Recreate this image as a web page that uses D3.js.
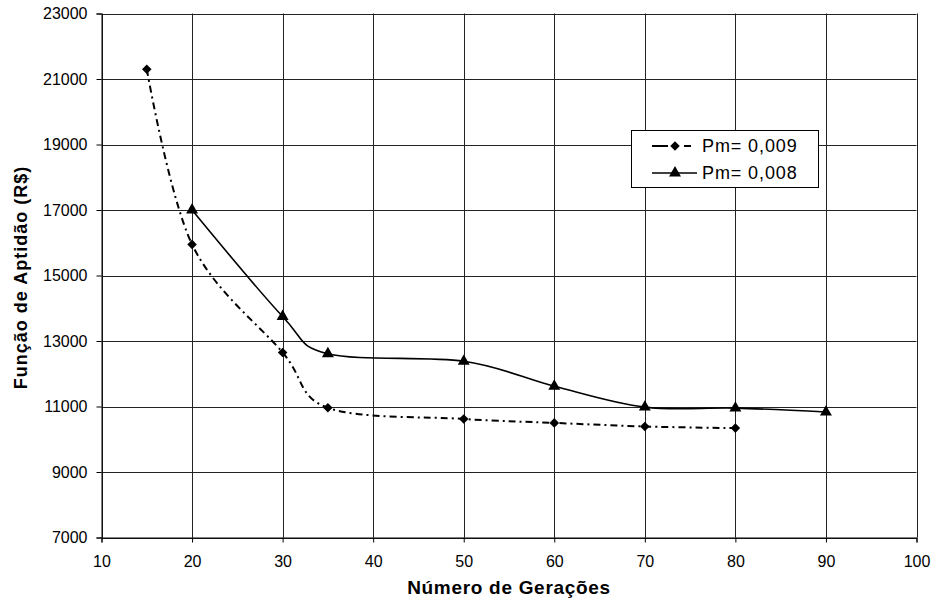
<!DOCTYPE html>
<html>
<head>
<meta charset="utf-8">
<script src="https://cdn.jsdelivr.net/npm/d3@7"></script>
<style>
  html, body { margin: 0; padding: 0; background: #fff; }
  svg { display: block; font-family: "Liberation Sans", Arial, sans-serif; }
</style>
</head>
<body>
<svg id="chart" width="932" height="600"></svg>
<script>
// ---- data ----
const xTicks = [10, 20, 30, 40, 50, 60, 70, 80, 90, 100];
const yTicks = [7000, 9000, 11000, 13000, 15000, 17000, 19000, 21000, 23000];

const seriesNames = ["Pm= 0,009", "Pm= 0,008"];
const gen009 = [15, 20, 30, 35, 50, 60, 70, 80];
const val009 = [21300, 15950, 12650, 10960, 10620, 10500, 10390, 10340];
const gen008 = [20, 30, 35, 50, 60, 70, 80, 90];
const val008 = [17000, 13750, 12610, 12380, 11620, 10980, 10950, 10830];

const xLabel = "Número de Gerações";
const yLabel = "Função de Aptidão (R$)";

// ---- layout ----
const svg = d3.select("#chart");
const pLeft = 101.5, pRight = 916.5, pTop = 13.5, pBottom = 537.5;

const x = d3.scaleLinear().domain([10, 100]).range([pLeft, pRight]);
const y = d3.scaleLinear().domain([7000, 23000]).range([pBottom, pTop]);

// gridlines
const grid = svg.append("g");
grid.selectAll("line.v").data(xTicks).join("line")
  .attr("x1", d => Math.round(x(d)) + 0.5).attr("x2", d => Math.round(x(d)) + 0.5)
  .attr("y1", pTop).attr("y2", pBottom)
  .attr("stroke", "#222").attr("stroke-width", 1);
grid.selectAll("line.h").data(yTicks).join("line")
  .attr("y1", d => Math.round(y(d)) + 0.5).attr("y2", d => Math.round(y(d)) + 0.5)
  .attr("x1", pLeft).attr("x2", pRight)
  .attr("stroke", "#222").attr("stroke-width", 1);

// axes
const xAxis = d3.axisBottom(x).tickValues(xTicks).tickSize(5).tickPadding(13).tickFormat(d3.format("d"));
const yAxis = d3.axisLeft(y).tickValues(yTicks).tickSize(5).tickPadding(9).tickFormat(d3.format("d"));

const gx = svg.append("g").attr("transform", `translate(0,${pBottom})`).call(xAxis);
const gy = svg.append("g").attr("transform", `translate(${pLeft},0)`).call(yAxis);
[gx, gy].forEach(g => {
  g.select(".domain").attr("stroke", "#000");
  g.selectAll(".tick line").attr("stroke", "#000");
  g.selectAll(".tick text").attr("fill", "#000")
    .style("font-family", "'Liberation Sans', Arial, sans-serif")
    .style("font-size", "16px");
});

// axis titles
svg.append("text")
  .attr("x", (pLeft + pRight) / 2).attr("y", 594)
  .attr("text-anchor", "middle")
  .style("font-weight", "bold").style("font-size", "19px").style("letter-spacing", "0.7px")
  .text(xLabel);
svg.append("text")
  .attr("transform", `translate(27,${(pTop + pBottom) / 2 + 2}) rotate(-90)`)
  .attr("text-anchor", "middle")
  .style("font-weight", "bold").style("font-size", "18px").style("letter-spacing", "1px")
  .text(yLabel);

// lines
const line = d3.line().x(d => x(d[0])).y(d => y(d[1])).curve(d3.curveCardinal.tension(0));
const data009 = gen009.map((g, i) => [g, val009[i]]);
const data008 = gen008.map((g, i) => [g, val008[i]]);

svg.append("path").datum(data009).attr("d", line)
  .attr("fill", "none").attr("stroke", "#000").attr("stroke-width", 2)
  .attr("stroke-dasharray", "7,4,2,4");
svg.append("path").datum(data008).attr("d", line)
  .attr("fill", "none").attr("stroke", "#000").attr("stroke-width", 1.6);

const diamond = d3.symbol().type(d3.symbolDiamond2).size(58);
const triangle = d3.symbol().type(d3.symbolTriangle).size(62);

svg.append("g").selectAll("path").data(data009).join("path")
  .attr("transform", d => `translate(${x(d[0])},${y(d[1])})`)
  .attr("d", diamond).attr("fill", "#000");
svg.append("g").selectAll("path").data(data008).join("path")
  .attr("transform", d => `translate(${x(d[0])},${y(d[1])})`)
  .attr("d", triangle).attr("fill", "#000");

// legend
const lg = svg.append("g");
lg.append("rect").attr("x", 631.5).attr("y", 130.5).attr("width", 187).attr("height", 57)
  .attr("fill", "#fff").attr("stroke", "#000").attr("stroke-width", 1);
const rows = [146, 173];
lg.append("line").attr("x1", 652).attr("x2", 697).attr("y1", rows[0]).attr("y2", rows[0])
  .attr("stroke", "#000").attr("stroke-width", 2).attr("stroke-dasharray", "16,16,7,6");
lg.append("path").attr("transform", `translate(675,${rows[0]})`).attr("d", diamond).attr("fill", "#000");
lg.append("line").attr("x1", 652).attr("x2", 697).attr("y1", rows[1]).attr("y2", rows[1])
  .attr("stroke", "#000").attr("stroke-width", 1.6);
lg.append("path").attr("transform", `translate(675,${rows[1]})`).attr("d", triangle).attr("fill", "#000");
lg.selectAll("text").data(seriesNames).join("text")
  .attr("x", 702).attr("y", (d, i) => rows[i] + 6)
  .style("font-size", "18px").style("letter-spacing", "0.9px")
  .text(d => d);
</script>
</body>
</html>
